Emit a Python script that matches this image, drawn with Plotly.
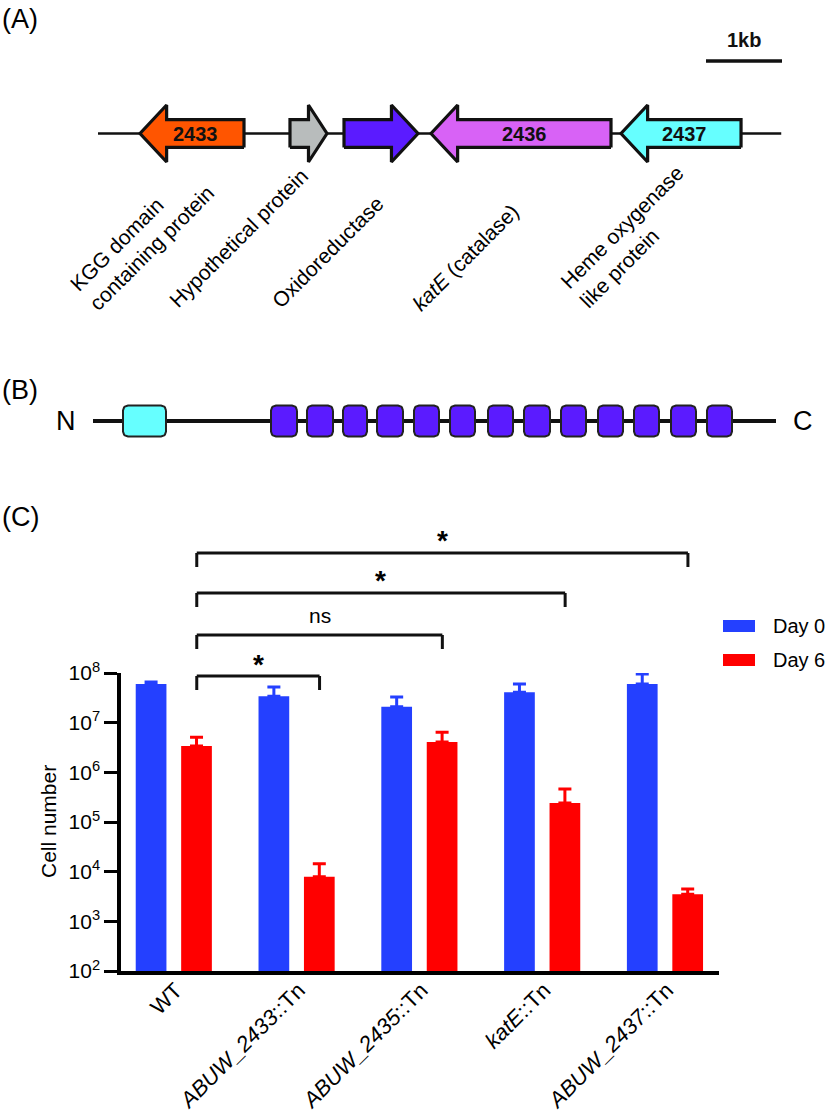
import numpy as np
import plotly.graph_objects as go

# ---------------- data ----------------
# Panel A: gene neighbourhood (positions in kb from the left end of the drawn locus)
locus_length_kb = 8.99
gene_ids = ["ABUW_2433", "ABUW_2434", "ABUW_2435", "ABUW_2436", "ABUW_2437"]
gene_start_kb = [0.553, 2.526, 3.237, 4.382, 6.882]
gene_end_kb = [1.921, 3.013, 4.211, 6.750, 8.461]
gene_strand = [-1, 1, 1, -1, -1]
gene_inner_label = ["2433", "", "", "2436", "2437"]
gene_desc = ["KGG domain<br>containing protein", "Hypothetical protein", "Oxidoreductase",
             "<i>katE</i> (catalase)", "Heme oxygenase<br>like protein"]
scale_bar_kb = 1.0

# Panel B: domain architecture (approximate residue positions)
protein_length = 683
domain_n_start = [30]
domain_n_end = [73]
repeat_start = [178, 214, 250, 284, 321, 357, 395, 431, 468, 505, 541, 578, 614]
repeat_end = [204, 240, 274, 310, 346, 382, 420, 457, 493, 530, 566, 603, 639]

# Panel C: survival
strains = ["WT", "ABUW_2433::Tn", "ABUW_2435::Tn", "katE::Tn", "ABUW_2437::Tn"]
strain_ticktext = ["WT", "<i>ABUW_2433</i>::Tn", "<i>ABUW_2435</i>::Tn", "<i>katE</i>::Tn", "<i>ABUW_2437</i>::Tn"]
day0 = [6.0e7, 3.4e7, 2.1e7, 4.1e7, 6.0e7]
day0_err = [0.6e7, 1.8e7, 1.2e7, 1.9e7, 3.5e7]
day6 = [3.4e6, 7.9e3, 4.1e6, 2.4e5, 3.5e3]
day6_err = [1.7e6, 6.5e3, 2.3e6, 2.2e5, 1.0e3]
comparisons = [(0, 1, "*"), (0, 2, "ns"), (0, 3, "*"), (0, 4, "*")]
y_exponents = [2, 3, 4, 5, 6, 7, 8]

# ---------------- style ----------------
W, H = 828, 1116
FONT = "Liberation Sans, Arial, sans-serif"
BLUE = "#2440FF"
RED = "#FF0000"
INK = "#111111"
gene_colors = ["#FF5500", "#B8BCBC", "#5B1BFF", "#D862F6", "#66FFFF"]
N_COLOR = "#66FFFF"
REPEAT_COLOR = "#5B1BFF"


def fx(p):
    return p / W


def fy(p):
    return 1 - p / H


fig = go.Figure()

# ---------------- Panel C (bar chart) ----------------
fig.add_trace(go.Bar(
    x=strains, y=day0, name="Day 0", marker=dict(color=BLUE, line=dict(width=0)),
    error_y=dict(type="data", symmetric=False, array=day0_err, arrayminus=[0] * len(day0),
                 color=BLUE, thickness=3, width=6.5),
    showlegend=False, cliponaxis=False))
fig.add_trace(go.Bar(
    x=strains, y=day6, name="Day 6", marker=dict(color=RED, line=dict(width=0)),
    error_y=dict(type="data", symmetric=False, array=day6_err, arrayminus=[0] * len(day6),
                 color=RED, thickness=3, width=6.5),
    showlegend=False, cliponaxis=False))

BAR_OFFSET = 0.187  # centre of the Day 6 bar relative to category centre

# ---------------- Panel A (genes) ----------------
A_X0, A_PXKB, A_Y0, A_PXU = 98.0, 76.0, 133.5, 28.5
BODY, HEAD = 0.49, 1.0
fig.add_trace(go.Scatter(x=[0, locus_length_kb], y=[0, 0], mode="lines",
                         line=dict(color=INK, width=2.6), xaxis="x2", yaxis="y2",
                         showlegend=False, hoverinfo="skip"))
for s, e, d, col in zip(gene_start_kb, gene_end_kb, gene_strand, gene_colors):
    hl = min(0.35, 0.5 * (e - s))
    if d > 0:
        xs = [s, e - hl, e - hl, e, e - hl, e - hl, s, s]
    else:
        xs = [e, s + hl, s + hl, s, s + hl, s + hl, e, e]
    ys = [-BODY, -BODY, -HEAD, 0, HEAD, BODY, BODY, -BODY]
    fig.add_trace(go.Scatter(x=xs, y=ys, mode="lines", fill="toself", fillcolor=col,
                             line=dict(color=INK, width=3.2), xaxis="x2", yaxis="y2",
                             showlegend=False, hoverinfo="skip"))
# scale bar
sb_x0 = 8.0
sb_y = (A_Y0 - 61) / A_PXU
fig.add_trace(go.Scatter(x=[sb_x0, sb_x0 + scale_bar_kb], y=[sb_y, sb_y], mode="lines",
                         line=dict(color=INK, width=3.5), xaxis="x2", yaxis="y2",
                         showlegend=False, hoverinfo="skip"))

annotations = []


def ann(**kw):
    kw.setdefault("showarrow", False)
    kw.setdefault("xanchor", "center")
    kw.setdefault("yanchor", "middle")
    annotations.append(kw)


ann(x=sb_x0 + scale_bar_kb / 2, y=(A_Y0 - 40) / A_PXU, xref="x2", yref="y2",
    text="<b>1kb</b>", font=dict(size=20, color=INK, family=FONT))
for s, e, lab in zip(gene_start_kb, gene_end_kb, gene_inner_label):
    if lab:
        ann(x=(s + e) / 2 + 0.05, y=0, xref="x2", yref="y2", text="<b>%s</b>" % lab,
            font=dict(size=20, color=INK, family=FONT))
label_centers_px = [(142, 238), (239, 238), (327, 252), (465, 257), (631, 237)]
for (cx, cy), t in zip(label_centers_px, gene_desc):
    ann(x=fx(cx), y=fy(cy), xref="paper", yref="paper", text=t, textangle=-45, align="left",
        font=dict(size=21, color="#000", family=FONT))

# ---------------- Panel B (domains) ----------------
B_X0, B_Y0 = 93.0, 421.0
fig.add_trace(go.Scatter(x=[0, protein_length], y=[0, 0], mode="lines",
                         line=dict(color=INK, width=4), xaxis="x3", yaxis="y3",
                         showlegend=False, hoverinfo="skip"))


def rounded_box(x0, x1, h, r, n=8):
    pts = []
    for cx, cy, a0 in [(x1 - r, h - r, 0), (x0 + r, h - r, 90), (x0 + r, -h + r, 180), (x1 - r, -h + r, 270)]:
        for a in np.linspace(a0, a0 + 90, n):
            pts.append((cx + r * np.cos(np.radians(a)), cy + r * np.sin(np.radians(a))))
    pts.append(pts[0])
    return [p[0] for p in pts], [p[1] for p in pts]


for starts, ends, col in [(domain_n_start, domain_n_end, N_COLOR), (repeat_start, repeat_end, REPEAT_COLOR)]:
    for s, e in zip(starts, ends):
        xs, ys = rounded_box(s, e, 15.5, 5)
        fig.add_trace(go.Scatter(x=xs, y=ys, mode="lines", fill="toself", fillcolor=col,
                                 line=dict(color="#222222", width=2), xaxis="x3", yaxis="y3",
                                 showlegend=False, hoverinfo="skip"))

ann(x=fx(66), y=fy(421), xref="paper", yref="paper", text="N", font=dict(size=27, color="#000", family=FONT))
ann(x=fx(803), y=fy(421), xref="paper", yref="paper", text="C", font=dict(size=27, color="#000", family=FONT))

# panel letters
for txt, yy in [("(A)", 19), ("(B)", 390), ("(C)", 517)]:
    ann(x=0, y=fy(yy), xref="paper", yref="paper", text=txt, xanchor="left",
        font=dict(size=27, color="#000", family=FONT))

# brackets for panel C
shapes = []
bracket_top_px = {1: 676, 2: 635, 3: 593, 4: 553}
label_px = {1: 664, 2: 615, 3: 581, 4: 541}
for i, j, lab in comparisons:
    xa, xb = i + BAR_OFFSET, j + BAR_OFFSET
    yt, yb = fy(bracket_top_px[j]), fy(bracket_top_px[j] + 14)
    for seg in [(xa, yb, xa, yt), (xa, yt, xb, yt), (xb, yt, xb, yb)]:
        shapes.append(dict(type="line", xref="x", yref="paper", x0=seg[0], y0=seg[1], x1=seg[2], y1=seg[3],
                           line=dict(color=INK, width=3)))
    ann(x=(xa + xb) / 2, y=fy(label_px[j]), xref="x", yref="paper",
        text=("<b>%s</b>" % lab) if lab == "*" else lab,
        font=dict(size=28 if lab == "*" else 21, color="#000", family=FONT))

# manual legend
for name, col, yc in [("Day 0", BLUE, 626), ("Day 6", RED, 660)]:
    shapes.append(dict(type="rect", xref="paper", yref="paper", x0=fx(723), x1=fx(755),
                       y0=fy(yc + 6), y1=fy(yc - 6), fillcolor=col, line=dict(width=0)))
    ann(x=fx(771), y=fy(yc), xref="paper", yref="paper", text=name, xanchor="left",
        font=dict(size=20, color="#000", family=FONT))

ann(x=fx(48), y=fy(822), xref="paper", yref="paper", text="Cell number", textangle=-90,
    font=dict(size=21, color="#000", family=FONT))

fig.update_layout(
    width=W, height=H, margin=dict(l=0, r=0, t=0, b=0, autoexpand=False),
    paper_bgcolor="white", plot_bgcolor="white",
    font=dict(family=FONT, color="#000"),
    barmode="group", bargap=0.26, bargroupgap=0.324,
    showlegend=False,
    xaxis=dict(domain=[fx(121), fx(719)], range=[-0.43, 4.44], showline=True, linewidth=3.5,
               linecolor="#000", ticks="", tickangle=-45, tickvals=strains, ticktext=strain_ticktext,
               tickfont=dict(size=22, family=FONT, color="#000"), showgrid=False, zeroline=False,
               ticklabelstandoff=-6, ticklabelshift=2, fixedrange=True, automargin=False),
    yaxis=dict(domain=[fy(971), fy(673)], type="log", range=[2, 8], showline=True, linewidth=3.5,
               linecolor="#000", ticks="outside", ticklen=13, tickwidth=3, tickcolor="#000",
               tickvals=[10 ** k for k in y_exponents], ticktext=["10<sup>%d</sup>" % k for k in y_exponents],
               tickfont=dict(size=21, family=FONT, color="#000"), showgrid=False, zeroline=False,
               fixedrange=True, automargin=False),
    xaxis2=dict(domain=[0, 1], range=[(0 - A_X0) / A_PXKB, (W - A_X0) / A_PXKB], visible=False,
                anchor="y2", fixedrange=True, automargin=False),
    yaxis2=dict(domain=[fy(300), 1], range=[(A_Y0 - 300) / A_PXU, A_Y0 / A_PXU], visible=False,
                anchor="x2", fixedrange=True, automargin=False),
    xaxis3=dict(domain=[0, 1], range=[-B_X0, W - B_X0], visible=False, anchor="y3", fixedrange=True,
                automargin=False),
    yaxis3=dict(domain=[fy(B_Y0 + 50), fy(B_Y0 - 50)], range=[-50, 50], visible=False, anchor="x3",
                fixedrange=True, automargin=False),
    shapes=shapes, annotations=annotations,
)

fig.write_html("out.html", config={"displayModeBar": False},
               post_script="document.body.style.margin='0px';document.body.style.overflow='hidden';")
